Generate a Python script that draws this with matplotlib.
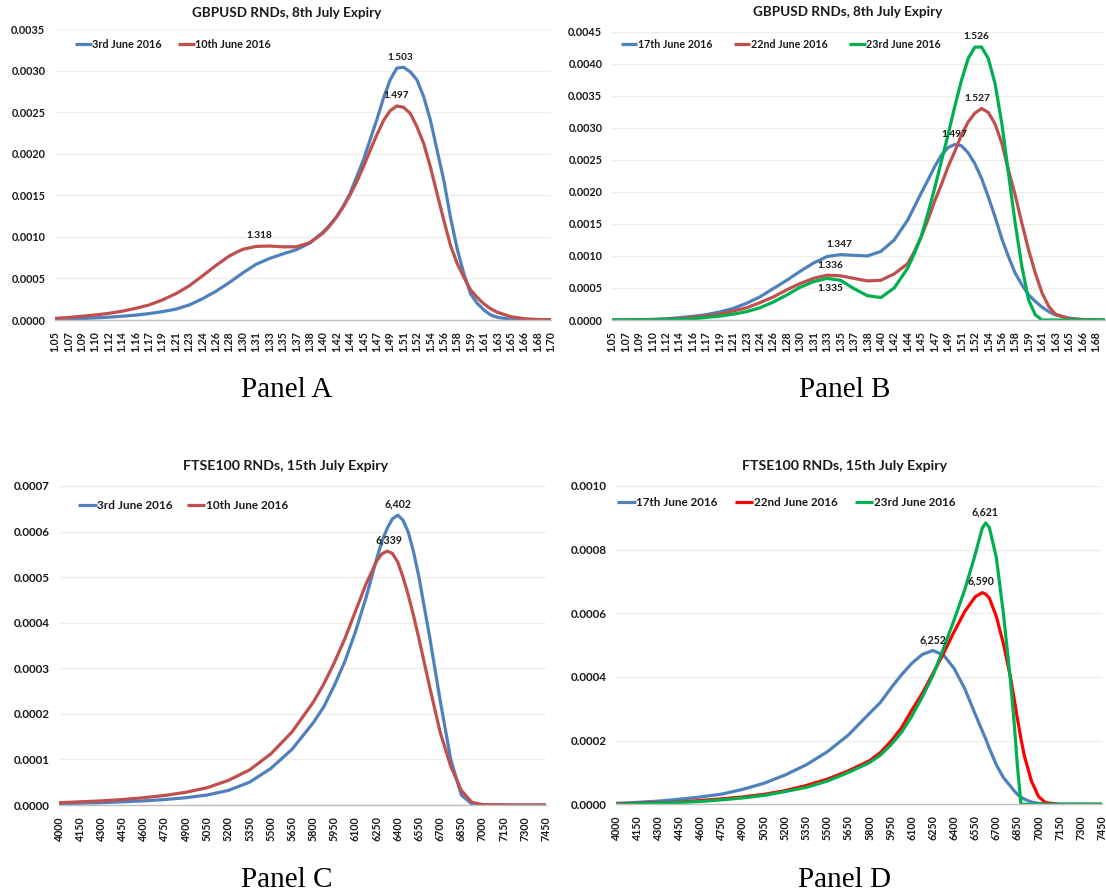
import numpy as np
import matplotlib
matplotlib.use("Agg")
import matplotlib.pyplot as plt
from matplotlib.ticker import FormatStrFormatter

plt.rcParams['font.family'] = ['Lato', 'DejaVu Sans']

# ------------------------------------------------------------------ data
gbp_tick_labels = ["1.05", "1.07", "1.09", "1.10", "1.12", "1.14", "1.16", "1.17", "1.19",
                   "1.21", "1.23", "1.24", "1.26", "1.28", "1.30", "1.31", "1.33", "1.35",
                   "1.37", "1.38", "1.40", "1.42", "1.44", "1.45", "1.47", "1.49", "1.51",
                   "1.52", "1.54", "1.56", "1.58", "1.59", "1.61", "1.63", "1.65", "1.66",
                   "1.68", "1.70"]
ftse_tick_labels = ["4000", "4150", "4300", "4450", "4600", "4750", "4900", "5050", "5200",
                    "5350", "5500", "5650", "5800", "5950", "6100", "6250", "6400", "6550",
                    "6700", "6850", "7000", "7150", "7300", "7450"]

# Panel A: GBPUSD, 8th July expiry
gbp_a_price = [1.0500, 1.0676, 1.0851, 1.1027, 1.1203, 1.1378, 1.1554, 1.1730, 1.1905, 1.2081,
               1.2257, 1.2432, 1.2608, 1.2784, 1.2959, 1.3135, 1.3311, 1.3486, 1.3662, 1.3838,
               1.4014, 1.4101, 1.4189, 1.4277, 1.4365, 1.4453, 1.4541, 1.4628, 1.4716, 1.4804,
               1.4892, 1.4980, 1.5068, 1.5155, 1.5243, 1.5331, 1.5419, 1.5507, 1.5595, 1.5682,
               1.5770, 1.5858, 1.5946, 1.6034, 1.6122, 1.6209, 1.6297, 1.6473, 1.6649, 1.6824,
               1.7000]
gbp_a_3jun = [0.00001, 0.000012, 0.000018, 0.000025, 0.000034, 0.000045, 0.000058, 0.000077,
              0.0001, 0.00013, 0.00018, 0.000255, 0.000345, 0.00045, 0.000565, 0.00067, 0.00074,
              0.000795, 0.000845, 0.000925, 0.001058,
              0.001142, 0.001239, 0.001368, 0.00152, 0.00172, 0.001923, 0.002164, 0.002405,
              0.002667, 0.002888, 0.00303, 0.00304, 0.002985, 0.002888, 0.002687, 0.002405,
              0.002043, 0.001681, 0.001239, 0.000857, 0.000555,
              0.000314, 0.0002, 0.00012, 0.00006, 0.000032, 0.000008, 0.000002, 0.0, 0.0]
gbp_a_10jun = [0.00002, 0.00003, 0.000045, 0.00006, 0.00008, 0.000105, 0.00014, 0.00018,
               0.00024, 0.000315, 0.00041, 0.00053, 0.000655, 0.00077, 0.00085, 0.000885,
               0.00089, 0.00088, 0.00088, 0.000929, 0.001046,
               0.001134, 0.001239, 0.00136, 0.0015, 0.001661, 0.001842, 0.002035, 0.002224,
               0.002397, 0.002518, 0.002574, 0.002558, 0.002486, 0.002325, 0.002124, 0.001842,
               0.00152, 0.0012, 0.0009, 0.00068, 0.000515,
               0.000362, 0.00027, 0.000193, 0.000135, 0.000093, 0.00004, 0.000016, 0.000006,
               0.000003]
gbp_a_labels = [("1.503", 1.503, 0.00304, "above"),
                ("1.497", 1.497, 0.002574, "above"),
                ("1.318", 1.318, 0.00089, "above")]

# Panel B: GBPUSD, 8th July expiry
gbp_b_price = [1.0500, 1.0676, 1.0851, 1.1027, 1.1203, 1.1378, 1.1554, 1.1730, 1.1905, 1.2081,
               1.2257, 1.2432, 1.2608, 1.2784, 1.2959, 1.3135, 1.3311, 1.3486, 1.3662, 1.3838,
               1.4014, 1.4189, 1.4365,
               1.4453, 1.4541, 1.4628, 1.4716, 1.4804, 1.4892, 1.4980, 1.5068, 1.5155, 1.5243,
               1.5331, 1.5419, 1.5507, 1.5595, 1.5682, 1.5770, 1.5858, 1.5946, 1.6034, 1.6122,
               1.6209,
               1.6297, 1.6473, 1.6649, 1.6824, 1.7000]
gbp_b_17jun = [0.0, 0.000001, 0.000003, 0.00001, 0.00002, 0.000036, 0.000057, 0.000083,
               0.000125, 0.00018, 0.00026, 0.00036, 0.00049, 0.00062, 0.00076, 0.00089,
               0.00099, 0.00102, 0.00101, 0.001, 0.00107, 0.00125, 0.00156,
               0.00177, 0.00198, 0.00218, 0.00239, 0.00257, 0.00269, 0.00274, 0.00272,
               0.00261, 0.00244, 0.00221, 0.00192, 0.00161, 0.00127, 0.00099, 0.00073,
               0.00055, 0.00039, 0.00029, 0.0002, 0.00013,
               0.00008, 0.00003, 0.000008, 0.000002, 0.0]
gbp_b_22jun = [0.0, 0.000001, 0.000002, 0.000005, 0.00001, 0.00002, 0.00004, 0.00006,
               0.00009, 0.00014, 0.00019, 0.00027, 0.00036, 0.00047, 0.00057, 0.00065,
               0.0007, 0.00069, 0.00065, 0.00061, 0.00062, 0.00072, 0.00088,
               0.00107, 0.0013, 0.00156, 0.00185, 0.00211, 0.00239, 0.00263, 0.00289,
               0.00309, 0.00323, 0.0033, 0.00324, 0.00306, 0.00276, 0.00234, 0.00195,
               0.00151, 0.00109, 0.00073, 0.00042, 0.00021,
               0.00009, 0.00002, 0.000004, 0.0, 0.0]
gbp_b_23jun = [0.0, 0.0, 0.000001, 0.000002, 0.000005, 0.00001, 0.00002, 0.00004,
               0.00006, 0.00009, 0.00013, 0.00019, 0.00028, 0.00039, 0.00051, 0.0006,
               0.00065, 0.00062, 0.00049, 0.00038, 0.00035, 0.0005, 0.00081,
               0.00104, 0.0013, 0.00166, 0.00205, 0.00247, 0.00289, 0.00333, 0.00374,
               0.00408, 0.00426, 0.00426, 0.00408, 0.00369, 0.00307, 0.00229, 0.00151,
               0.00083, 0.00031, 0.00008, 0.0, 0.0,
               0.0, 0.0, 0.0, 0.0, 0.0]
gbp_b_labels = [("1.497", 1.497, 0.00274, "above"),
                ("1.527", 1.527, 0.0033, "above"),
                ("1.526", 1.526, 0.00427, "above"),
                ("1.347", 1.347, 0.00102, "above"),
                ("1.336", 1.336, 0.0007, "above"),
                ("1.335", 1.335, 0.00065, "below")]

# Panel C: FTSE100, 15th July expiry
ftse_c_level = [4000, 4150, 4300, 4450, 4600, 4750, 4900, 5050, 5200, 5350, 5500, 5650, 5800,
                5875, 5950, 6025, 6100, 6175,
                6250, 6287, 6325, 6362, 6400, 6437, 6475, 6512, 6550,
                6625, 6700, 6775, 6850, 6925, 7000, 7150, 7300, 7450]
ftse_c_3jun = [0.000003, 0.000004, 0.000005, 0.000007, 0.000009, 0.000012, 0.000016, 0.000022,
               0.000032, 0.00005, 0.00008, 0.000122, 0.00018, 0.000215, 0.000262, 0.000315,
               0.00038, 0.000455,
               0.00054, 0.000578, 0.000607, 0.000628, 0.000636, 0.000625, 0.000598, 0.000555,
               0.0005,
               0.00037, 0.00023, 0.0001, 0.000022, 0.000002, 0.0, 0.0, 0.0, 0.0]
ftse_c_10jun = [0.000005, 0.000007, 0.000009, 0.000012, 0.000016, 0.000021, 0.000028, 0.000038,
                0.000054, 0.000077, 0.000112, 0.00016, 0.000225, 0.000265, 0.000312, 0.000365,
                0.000425, 0.000485,
                0.000535, 0.000551, 0.000557, 0.000552, 0.000533, 0.0005, 0.00046, 0.000415,
                0.000365,
                0.00026, 0.00016, 0.000085, 0.000032, 0.000006, 0.000001, 0.0, 0.0, 0.0]
ftse_c_labels = [("6,402", 6402, 0.000636, "above"),
                 ("6,339", 6339, 0.000557, "above")]

# Panel D: FTSE100, 15th July expiry
ftse_d_level = [4000, 4150, 4300, 4450, 4600, 4750, 4900, 5050, 5200, 5350, 5500, 5650, 5800,
                5875, 5950, 6025, 6100, 6175, 6250, 6325, 6400, 6475, 6550,
                6600, 6625, 6650, 6700, 6750, 6800, 6825, 6850, 6875, 6900, 6950, 7000, 7050,
                7150, 7300, 7450]
ftse_d_17jun = [0.000003, 0.000006, 0.00001, 0.000016, 0.000023, 0.000032, 0.000047, 0.000066,
                0.000092, 0.000124, 0.000165, 0.000218, 0.000286,
                0.000319, 0.000364, 0.000406, 0.000443, 0.000471, 0.000483, 0.000469, 0.000427,
                0.000364, 0.000283,
                0.000231, 0.000205, 0.000176, 0.000124, 0.000084, 0.000057, 0.000043, 0.000031,
                0.000022, 0.000016, 0.000007, 0.000003, 0.000001, 0.0, 0.0, 0.0]
ftse_d_22jun = [0.000001, 0.000003, 0.000005, 0.000007, 0.000012, 0.000017, 0.000023, 0.000031,
                0.000043, 0.000059, 0.000079, 0.000105, 0.000137,
                0.000162, 0.000197, 0.000239, 0.000296, 0.000349, 0.000411, 0.000474, 0.000542,
                0.000605, 0.000652,
                0.000665, 0.00066, 0.000648, 0.00059, 0.000505, 0.0004, 0.000335, 0.000268,
                0.000205, 0.00015, 0.000072, 0.000024, 0.000005, 0.0, 0.0, 0.0]
ftse_d_23jun = [0.0, 0.000002, 0.000004, 0.000006, 0.000009, 0.000014, 0.00002, 0.000028,
                0.00004, 0.000053, 0.000073, 0.0001, 0.000131,
                0.000154, 0.000186, 0.000225, 0.000277, 0.000338, 0.000405, 0.00049, 0.000579,
                0.000673, 0.000785,
                0.000868, 0.000884, 0.00087, 0.000775, 0.0006, 0.00039, 0.000265, 0.000118,
                0.0, 0.0, 0.0, 0.0, 0.0, 0.0, 0.0, 0.0]
ftse_d_labels = [("6,252", 6252, 0.000483, "above"),
                 ("6,590", 6590, 0.000666, "above"),
                 ("6,621", 6621, 0.000885, "above")]

# ------------------------------------------------------------------ style
BLUE = "#4F81BD"
RED = "#C0504D"
BRIGHT_RED = "#FF0000"
GREEN = "#00B050"
GRID = "#EFEEE8"
AXIS = "#BFBFBF"
TXT = "#1A1A1A"

W, H = 1106, 896
fig = plt.figure(figsize=(W / 100, H / 100), dpi=100)
fig.patch.set_facecolor("white")


def px_axes(x0, x1, ytop, ybot):
    return fig.add_axes([x0 / W, 1 - ybot / H, (x1 - x0) / W, (ybot - ytop) / H])


def style_axes(ax, ymax, ystep, yfs, xfs):
    ax.set_ylim(0, ymax)
    ax.set_yticks(np.arange(0, ymax + ystep / 2, ystep))
    ax.yaxis.set_major_formatter(FormatStrFormatter("%.4f"))
    ax.grid(axis="y", color=GRID, linewidth=1.0)
    ax.set_axisbelow(True)
    for s in ["top", "right", "left"]:
        ax.spines[s].set_visible(False)
    ax.spines["bottom"].set_color(AXIS)
    ax.spines["bottom"].set_linewidth(1.0)
    ax.tick_params(axis="y", length=0, pad=7, labelsize=yfs, labelcolor=TXT)
    ax.tick_params(axis="x", length=0, pad=8, labelsize=xfs, labelcolor=TXT, rotation=90)
    for lab in ax.get_yticklabels() + ax.get_xticklabels():
        lab.set_fontweight("bold")


def add_labels(ax, labels, fs):
    for text, x, y, where in labels:
        off = 4 if where == "above" else -4
        ax.annotate(text, xy=(x, y), xytext=(0, off), textcoords="offset points",
                    ha="center", va="bottom" if where == "above" else "top",
                    fontsize=fs, fontweight="bold", color=TXT, zorder=5)


def add_legend(ax, x, y, ncol, fs, colsp):
    leg = ax.legend(loc="center left", bbox_to_anchor=(x, y), ncol=ncol, frameon=False,
                    fontsize=fs, handlelength=1.55, handletextpad=0.05, columnspacing=colsp,
                    borderaxespad=0, borderpad=0)
    for t in leg.get_texts():
        t.set_fontweight("bold")
        t.set_color(TXT)


LW = 2.3
CAP = "butt"

# ---------------- Panel A
axA = px_axes(55, 551, 29, 320)
axA.plot(gbp_a_price, gbp_a_3jun, color=BLUE, lw=LW, label="3rd June 2016", solid_capstyle=CAP)
axA.plot(gbp_a_price, gbp_a_10jun, color=RED, lw=LW, label="10th June 2016", solid_capstyle=CAP)
axA.set_xticks(np.linspace(1.05, 1.70, len(gbp_tick_labels)), gbp_tick_labels)
axA.set_xlim(1.05, 1.70)
style_axes(axA, 0.0035, 0.0005, 7.8, 7.6)
add_labels(axA, gbp_a_labels, 7.2)
add_legend(axA, 0.04, 0.948, 2, 7.8, 1.5)

# ---------------- Panel B
axB = px_axes(612, 1105, 31.7, 320)
axB.plot(gbp_b_price, gbp_b_17jun, color=BLUE, lw=LW, label="17th June 2016", solid_capstyle=CAP)
axB.plot(gbp_b_price, gbp_b_22jun, color=RED, lw=LW, label="22nd June 2016", solid_capstyle=CAP)
axB.plot(gbp_b_price, gbp_b_23jun, color=GREEN, lw=LW, label="23rd June 2016", solid_capstyle=CAP)
axB.set_xticks(np.linspace(1.05, 1.70, len(gbp_tick_labels)), gbp_tick_labels)
axB.set_xlim(1.05, 1.6944)
style_axes(axB, 0.0045, 0.0005, 7.8, 7.6)
add_labels(axB, gbp_b_labels, 7.3)
add_legend(axB, 0.018, 0.957, 3, 7.7, 2.0)

# ---------------- Panel C
axC = px_axes(59, 546, 486, 805)
axC.plot(ftse_c_level, ftse_c_3jun, color=BLUE, lw=LW, label="3rd June 2016", solid_capstyle=CAP)
axC.plot(ftse_c_level, ftse_c_10jun, color=RED, lw=LW, label="10th June 2016", solid_capstyle=CAP)
axC.set_xticks([float(v) for v in ftse_tick_labels], ftse_tick_labels)
axC.set_xlim(4000, 7450)
style_axes(axC, 0.0007, 0.0001, 8.4, 7.7)
add_labels(axC, ftse_c_labels, 7.6)
add_legend(axC, 0.04, 0.94, 2, 8.5, 1.2)

# ---------------- Panel D
axD = px_axes(616, 1102, 486, 804.3)
axD.plot(ftse_d_level, ftse_d_17jun, color=BLUE, lw=LW, label="17th June 2016", solid_capstyle=CAP)
axD.plot(ftse_d_level, ftse_d_22jun, color=BRIGHT_RED, lw=LW, label="22nd June 2016", solid_capstyle=CAP)
axD.plot(ftse_d_level, ftse_d_23jun, color=GREEN, lw=LW, label="23rd June 2016", solid_capstyle=CAP)
axD.set_xticks([float(v) for v in ftse_tick_labels], ftse_tick_labels)
axD.set_xlim(4000, 7450)
style_axes(axD, 0.0010, 0.0002, 8.4, 7.7)
add_labels(axD, ftse_d_labels, 7.6)
add_legend(axD, 0.003, 0.947, 3, 8.4, 1.5)

# ---------------- titles and panel captions
fig.text(287 / W, 1 - 13 / H, "GBPUSD RNDs, 8th July Expiry",
         ha="center", va="center", fontsize=9.7, fontweight="bold", color=TXT)
fig.text(848 / W, 1 - 12 / H, "GBPUSD RNDs, 8th July Expiry",
         ha="center", va="center", fontsize=9.7, fontweight="bold", color=TXT)
fig.text(286 / W, 1 - 466 / H, "FTSE100 RNDs, 15th July Expiry",
         ha="center", va="center", fontsize=10.2, fontweight="bold", color=TXT)
fig.text(845 / W, 1 - 466 / H, "FTSE100 RNDs, 15th July Expiry",
         ha="center", va="center", fontsize=10.2, fontweight="bold", color=TXT)

cap_kw = dict(ha="center", va="center", fontsize=21, family=["Liberation Serif", "DejaVu Serif"],
              color="black")
fig.text(287 / W, 1 - 390 / H, "Panel A", **cap_kw)
fig.text(845 / W, 1 - 390 / H, "Panel B", **cap_kw)
fig.text(287 / W, 1 - 880 / H, "Panel C", **cap_kw)
fig.text(845 / W, 1 - 880 / H, "Panel D", **cap_kw)

fig.savefig("out.png", dpi=100, facecolor="white")
